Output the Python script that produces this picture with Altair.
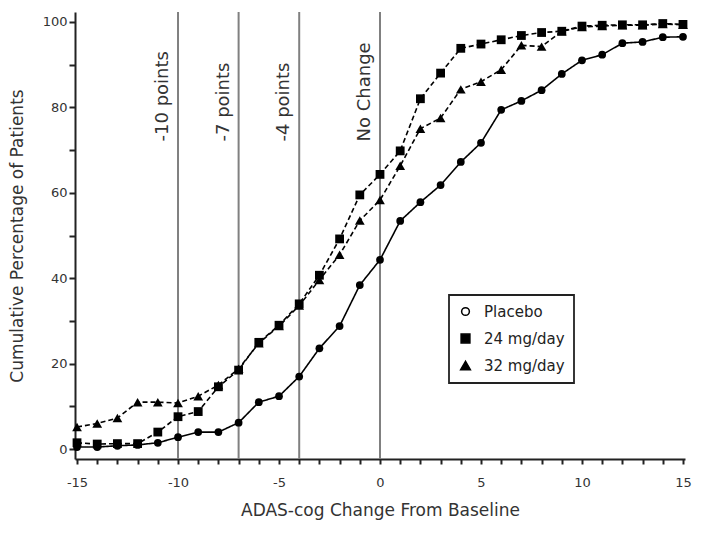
import altair as alt
import pandas as pd

x_vals = list(range(-15, 16))
series_names = ["Placebo", "24 mg/day", "32 mg/day"]
dash_styles = ["solid", "dashed", "dashed"]

placebo = [0.5, 0.5, 0.8, 1.0, 1.5, 2.8, 4.0, 4.0, 6.2, 11.0, 12.4, 17.0, 23.6, 28.8, 38.4, 44.3,
           53.4, 57.8, 61.8, 67.2, 71.7, 79.4, 81.5, 84.0, 87.8, 91.0, 92.3, 95.0, 95.3, 96.4, 96.5]
mg24 = [1.5, 1.2, 1.3, 1.3, 4.0, 7.6, 8.8, 14.6, 18.5, 25.0, 29.0, 34.0, 40.7, 49.2, 59.5, 64.3,
        69.8, 82.0, 88.0, 93.8, 94.8, 95.8, 96.8, 97.5, 97.8, 99.0, 99.2, 99.3, 99.3, 99.6, 99.4]
mg32 = [5.2, 6.0, 7.3, 11.0, 11.0, 10.8, 12.4, 15.0, 18.8, 24.8, 28.8, 33.6, 39.6, 45.5, 53.5, 58.3,
        66.3, 75.0, 77.5, 84.2, 86.0, 88.8, 94.5, 94.2, 97.8, 98.8, 99.0, 99.2, 99.2, 99.5, 99.3]

ref_x = [-10, -7, -4, 0]
ref_labels = ["-10 points", "-7 points", "-4 points", "No Change"]
ref_label_y = [72, 72, 72, 72]

rows = []
for name, dash, vals in zip(series_names, dash_styles, [placebo, mg24, mg32]):
    for xv, yv in zip(x_vals, vals):
        rows.append({"x": xv, "y": yv, "series": name, "dash": dash})
df = pd.DataFrame(rows)
ref_df = pd.DataFrame({"x": ref_x, "label": ref_labels, "y": ref_label_y})

FONT = "DejaVu Sans"
xscale = alt.Scale(domain=[-15.1, 15.1], nice=False, zero=False)
yscale = alt.Scale(domain=[-2.3, 102.3], nice=False, zero=False)

x_axis = alt.Axis(values=x_vals,
                  labelExpr="datum.value % 5 == 0 ? (datum.value < 0 ? '-' + abs(datum.value) : '' + datum.value) : ''",
                  title="ADAS-cog Change From Baseline", grid=False, tickSize=5, tickWidth=2,
                  tickColor="#222", domainColor="#222", domainWidth=2, labelFont=FONT,
                  labelFontSize=13, labelColor="#333", labelPadding=12, titleFont=FONT,
                  titleFontSize=17, titleFontWeight="normal", titleColor="#333", titlePadding=13,
                  labelFlush=False, labelOverlap=False)
y_axis = alt.Axis(values=list(range(0, 101, 10)), labelExpr="datum.value % 20 == 0 ? datum.label : ''",
                  title="Cumulative  Percentage of Patients", grid=False, tickSize=6, tickWidth=2,
                  tickColor="#222", domainColor="#222", domainWidth=2, labelFont=FONT,
                  labelFontSize=13, labelColor="#333", labelPadding=2, titleFont=FONT,
                  titleFontSize=17, titleFontWeight="normal", titleColor="#333", titlePadding=16,
                  labelFlush=False, labelOverlap=False)

X = alt.X("x:Q", scale=xscale, axis=x_axis)
Y = alt.Y("y:Q", scale=yscale, axis=y_axis)

shape_scale = alt.Scale(domain=series_names, range=["circle", "square", "triangle-up"])
size_scale = alt.Scale(domain=series_names, range=[60, 95, 110])

rules = alt.Chart(ref_df).mark_rule(color="#808080", strokeWidth=2).encode(x=X)
labels = alt.Chart(ref_df).mark_text(angle=270, align="left", baseline="alphabetic", dy=-10,
                                     font=FONT, fontSize=18, color="#333").encode(
    x=X, y=Y, text="label:N"
)
lines = alt.Chart(df).mark_line(color="black", strokeWidth=1.6).encode(
    x=X, y=Y,
    detail="series:N",
    strokeDash=alt.StrokeDash("dash:N", scale=alt.Scale(domain=["solid", "dashed"],
                              range=[[1, 0], [5, 3]]), legend=None),
)
points = alt.Chart(df).mark_point(filled=True, color="black", opacity=1).encode(
    x=X, y=Y,
    shape=alt.Shape("series:N", scale=shape_scale, title=None),
    size=alt.Size("series:N", scale=size_scale, title=None),
)
legend_layer = alt.Chart(df).mark_point(filled=False, color="black", opacity=0).encode(
    x=X, y=Y,
    shape=alt.Shape("series:N", scale=shape_scale, title=None,
                    legend=alt.Legend(orient="none", legendX=374, legendY=283, title=None,
                                      labelFont=FONT, labelFontSize=15, labelColor="#222",
                                      strokeColor="#222", padding=9, rowPadding=11,
                                      labelOffset=11, symbolStrokeWidth=1.5,
                                      symbolOpacity=1)),
    fill=alt.Fill("series:N", scale=alt.Scale(domain=series_names, range=["white", "black", "black"]),
                  title=None),
    stroke=alt.Stroke("series:N", scale=alt.Scale(domain=series_names, range=["black", "black", "black"]),
                      title=None),
)

chart = alt.layer(rules, labels, lines, points, legend_layer).properties(
    width=610, height=447,
    autosize=alt.AutoSizeParams(type="none"),
    padding={"left": 67, "top": 4, "right": 9, "bottom": 63},
).configure_view(strokeWidth=0).configure_legend(strokeWidth=1.8)

chart.save("out.html", embed_options={"renderer": "svg", "actions": False})
